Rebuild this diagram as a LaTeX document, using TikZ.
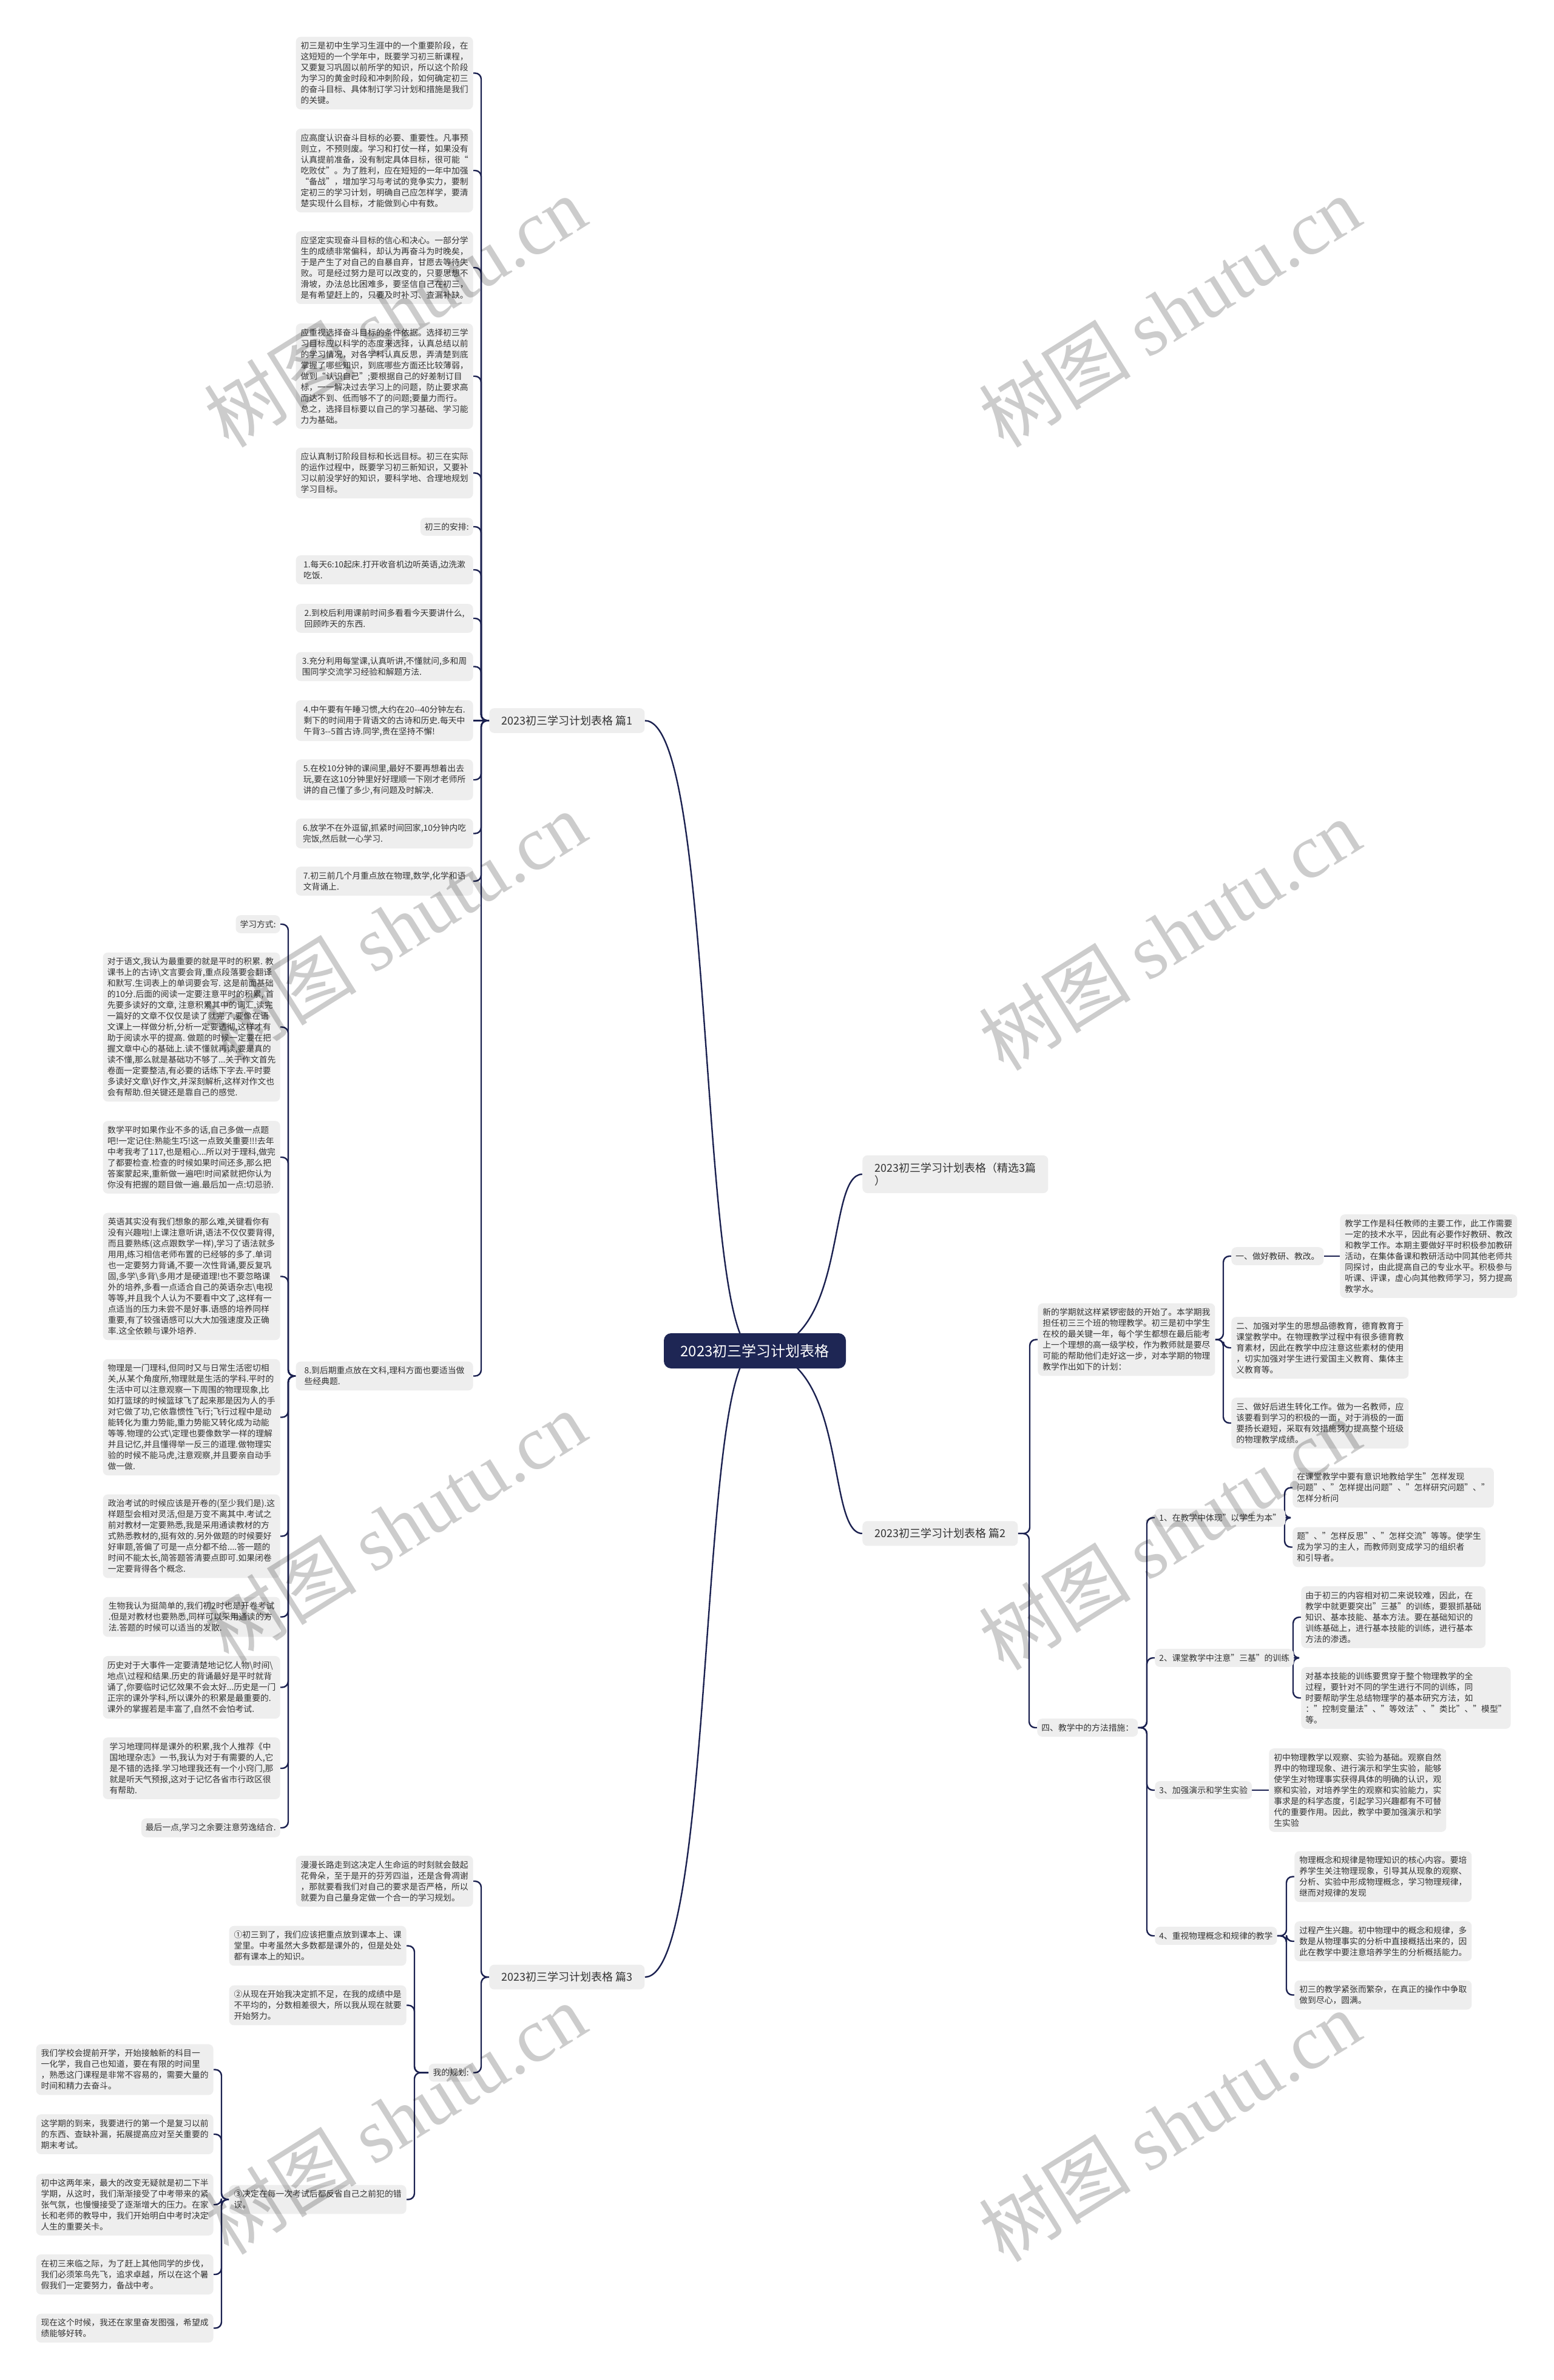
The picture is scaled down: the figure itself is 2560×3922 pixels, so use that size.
\documentclass[tikz,border=0pt]{standalone}
\usepackage{fontspec}
\setmainfont{Noto Sans CJK SC}
\newfontfamily\wmserif{Liberation Serif}
\definecolor{linec}{RGB}{27,33,80}
\definecolor{boxc}{RGB}{238,238,238}
\definecolor{txtc}{RGB}{51,51,51}
\definecolor{centerc}{RGB}{30,38,84}
\pgfdeclarelayer{bg}
\pgfdeclarelayer{fg}
\pgfsetlayers{bg,main,fg}
\tikzset{
 leaf/.style={fill=boxc, rounded corners=4pt, text=txtc, font=\fontsize{6.9pt}{9pt}\selectfont, align=left, inner xsep=3.5pt, inner ysep=4.2pt},
 lleaf/.style={leaf, anchor=east, minimum width=146pt},
 rleaf/.style={leaf, anchor=west, minimum width=146pt},
 lvl/.style={fill=boxc, rounded corners=4pt, text=txtc, font=\fontsize{9pt}{10.5pt}\selectfont, align=left, inner xsep=10pt, inner ysep=6pt},
 maintopic/.style={fill=centerc, text=white, rounded corners=6pt, font=\fontsize{12pt}{14pt}\selectfont, minimum width=150pt, minimum height=29pt},
 conn/.style={draw=linec, line width=1.2pt, rounded corners=5pt},
 wm/.style={text=black, opacity=0.2, font=\fontsize{63pt}{63pt}\selectfont, rotate=32},
}
\newcommand\Lconn[2]{\draw[conn] (#1.west) -| ([xshift=6.5pt]#2.east) -- (#2.east);}
\newcommand\Rconn[2]{\draw[conn] (#1.east) -| ([xshift=-6.5pt]#2.west) -- (#2.west);}
\begin{document}
\begin{tikzpicture}[x=0.5pt,y=-0.5pt]
\useasboundingbox (0,0) rectangle (2560,3922);
\begin{pgfonlayer}{bg}
\fill[white] (0,0) rectangle (2560,3922);
\end{pgfonlayer}

\node[maintopic] (c) at (1244,2226) {2023初三学习计划表格};

% ---------- Part 1 ----------
\node[lvl, anchor=west] (p1) at (806,1187.5) {2023初三学习计划表格 篇1};
\node[lleaf] (a1) at (780,120.5) {初三是初中生学习生涯中的一个重要阶段，在\\这短短的一个学年中，既要学习初三新课程，\\又要复习巩固以前所学的知识，所以这个阶段\\为学习的黄金时段和冲刺阶段，如何确定初三\\的奋斗目标、具体制订学习计划和措施是我们\\的关键。};
\node[lleaf] (a2) at (780,281) {应高度认识奋斗目标的必要、重要性。凡事预\\则立，不预则废。学习和打仗一样，如果没有\\认真提前准备，没有制定具体目标，很可能“\\吃败仗”。为了胜利，应在短短的一年中加强\\“备战”，增加学习与考试的竞争实力，要制\\定初三的学习计划，明确自己应怎样学，要清\\楚实现什么目标，才能做到心中有数。};
\node[lleaf] (a3) at (780,441) {应坚定实现奋斗目标的信心和决心。一部分学\\生的成绩非常偏科，却认为再奋斗为时晚矣，\\于是产生了对自己的自暴自弃，甘愿去等待失\\败。可是经过努力是可以改变的，只要思想不\\滑坡，办法总比困难多，要坚信自己在初三，\\是有希望赶上的，只要及时补习、查漏补缺。};
\node[lleaf] (a4) at (780,620) {应重视选择奋斗目标的条件依据。选择初三学\\习目标应以科学的态度来选择，认真总结以前\\的学习情况，对各学科认真反思，弄清楚到底\\掌握了哪些知识，到底哪些方面还比较薄弱，\\做到“认识自己”;要根据自己的好差制订目\\标，一一解决过去学习上的问题，防止要求高\\而达不到、低而够不了的问题;要量力而行。\\总之，选择目标要以自己的学习基础、学习能\\力为基础。};
\node[lleaf] (a5) at (780,779.5) {应认真制订阶段目标和长远目标。初三在实际\\的运作过程中，既要学习初三新知识，又要补\\习以前没学好的知识，要科学地、合理地规划\\学习目标。};
\node[leaf, anchor=east] (a6) at (780,868) {初三的安排:};
\node[lleaf] (a7) at (780,939) {1.每天6:10起床.打开收音机边听英语,边洗漱\\吃饭.};
\node[lleaf] (a8) at (780,1019) {2.到校后利用课前时间多看看今天要讲什么,\\回顾昨天的东西.};
\node[lleaf] (a9) at (780,1098.5) {3.充分利用每堂课,认真听讲,不懂就问,多和周\\围同学交流学习经验和解题方法.};
\node[lleaf] (a10) at (780,1187.5) {4.中午要有午睡习惯,大约在20-{}-40分钟左右.\\剩下的时间用于背语文的古诗和历史.每天中\\午背3-{}-5首古诗.同学,贵在坚持不懈!};
\node[lleaf] (a11) at (780,1285) {5.在校10分钟的课间里,最好不要再想着出去\\玩,要在这10分钟里好好理顺一下刚才老师所\\讲的自己懂了多少,有问题及时解决.};
\node[lleaf] (a12) at (780,1373.5) {6.放学不在外逗留,抓紧时间回家,10分钟内吃\\完饭,然后就一心学习.};
\node[lleaf] (a13) at (780,1452) {7.初三前几个月重点放在物理,数学,化学和语\\文背诵上.};
\node[lleaf] (a14) at (780,2267.5) {8.到后期重点放在文科,理科方面也要适当做\\些经典题.};

\node[leaf, anchor=east] (b0) at (462,1523) {学习方式:};
\node[lleaf] (b1) at (462,1692.5) {对于语文,我认为最重要的就是平时的积累. 教\\课书上的古诗\textbackslash 文言要会背,重点段落要会翻译\\和默写.生词表上的单词要会写. 这是前面基础\\的10分.后面的阅读一定要注意平时的积累, 首\\先要多读好的文章, 注意积累其中的词汇.读完\\一篇好的文章不仅仅是读了就完了,要像在语\\文课上一样做分析,分析一定要透彻,这样才有\\助于阅读水平的提高. 做题的时候一定要在把\\握文章中心的基础上.读不懂就再读,要是真的\\读不懂,那么就是基础功不够了...关于作文首先\\卷面一定要整洁,有必要的话练下字去.平时要\\多读好文章\textbackslash 好作文,并深刻解析,这样对作文也\\会有帮助.但关键还是靠自己的感觉.};
\node[lleaf] (b2) at (462,1907) {数学平时如果作业不多的话,自己多做一点题\\吧!一定记住:熟能生巧!这一点致关重要!!!去年\\中考我考了117,也是粗心...所以对于理科,做完\\了都要检查.检查的时候如果时间还多,那么把\\答案蒙起来,重新做一遍吧!时间紧就把你认为\\你没有把握的题目做一遍.最后加一点:切忌骄.};
\node[lleaf] (b3) at (462,2103.5) {英语其实没有我们想象的那么难,关键看你有\\没有兴趣啦!上课注意听讲,语法不仅仅要背得,\\而且要熟练(这点跟数学一样),学习了语法就多\\用用,练习相信老师布置的已经够的多了.单词\\也一定要努力背诵,不要一次性背诵,要反复巩\\固,多学\textbackslash 多背\textbackslash 多用才是硬道理!也不要忽略课\\外的培养,多看一点适合自己的英语杂志\textbackslash 电视\\等等,并且我个人认为不要看中文了,这样有一\\点适当的压力未尝不是好事.语感的培养同样\\重要,有了较强语感可以大大加强速度及正确\\率.这全依赖与课外培养.};
\node[lleaf] (b4) at (462,2335.5) {物理是一门理科,但同时又与日常生活密切相\\关,从某个角度所,物理就是生活的学科.平时的\\生活中可以注意观察一下周围的物理现象,比\\如打篮球的时候篮球飞了起来那是因为人的手\\对它做了功,它依靠惯性飞行;飞行过程中是动\\能转化为重力势能,重力势能又转化成为动能\\等等.物理的公式\textbackslash 定理也要像数学一样的理解\\并且记忆,并且懂得举一反三的道理.做物理实\\验的时候不能马虎,注意观察,并且要亲自动手\\做一做.};
\node[lleaf] (b5) at (462,2531.5) {政治考试的时候应该是开卷的(至少我们是).这\\样题型会相对灵活,但是万变不离其中.考试之\\前对教材一定要熟悉,我是采用通读教材的方\\式熟悉教材的,挺有效的.另外做题的时候要好\\好审题,答偏了可是一点分都不给....答一题的\\时间不能太长,简答题答清要点即可.如果闭卷\\一定要背得各个概念.};
\node[lleaf] (b6) at (462,2664.5) {生物我认为挺简单的,我们初2时也是开卷考试\\.但是对教材也要熟悉,同样可以采用通读的方\\法.答题的时候可以适当的发散.};
\node[lleaf] (b7) at (462,2780.5) {历史对于大事件一定要清楚地记忆人物\textbackslash 时间\textbackslash \\地点\textbackslash 过程和结果.历史的背诵最好是平时就背\\诵了,你要临时记忆效果不会太好...历史是一门\\正宗的课外学科,所以课外的积累是最重要的.\\课外的掌握若是丰富了,自然不会怕考试.};
\node[lleaf] (b8) at (462,2914) {学习地理同样是课外的积累,我个人推荐《中\\国地理杂志》一书,我认为对于有需要的人,它\\是不错的选择.学习地理我还有一个小窍门,那\\就是听天气预报,这对于记忆各省市行政区很\\有帮助.};
\node[leaf, anchor=east] (b9) at (462,3012) {最后一点,学习之余要注意劳逸结合.};

% ---------- Part 3 ----------
\node[lvl, anchor=west] (p3) at (806,3258) {2023初三学习计划表格 篇3};
\node[lleaf] (c1) at (780,3100) {漫漫长路走到这决定人生命运的时刻就会鼓起\\花骨朵，至于是开的芬芳四溢，还是含骨凋谢\\，那就要看我们对自己的要求是否严格，所以\\就要为自己量身定做一个合一的学习规划。};
\node[leaf, anchor=east] (c2) at (780,3415.5) {我的规划:};
\node[lleaf] (d1) at (670,3206.5) {①初三到了，我们应该把重点放到课本上、课\\堂里。中考虽然大多数都是课外的，但是处处\\都有课本上的知识。};
\node[lleaf] (d2) at (670,3304.5) {②从现在开始我决定抓不足，在我的成绩中是\\不平均的，分数相差很大，所以我从现在就要\\开始努力。};
\node[lleaf] (d3) at (670,3624.5) {③决定在每一次考试后都反省自己之前犯的错\\误。};
\node[lleaf] (e1) at (352,3410.5) {我们学校会提前开学，开始接触新的科目一\\一化学，我自己也知道，要在有限的时间里\\，熟悉这门课程是非常不容易的，需要大量的\\时间和精力去奋斗。};
\node[lleaf] (e2) at (352,3517) {这学期的到来，我要进行的第一个是复习以前\\的东西、查缺补漏，拓展提高应对至关重要的\\期末考试。};
\node[lleaf] (e3) at (352,3633) {初中这两年来，最大的改变无疑就是初二下半\\学期，从这时，我们渐渐接受了中考带来的紧\\张气氛，也慢慢接受了逐渐增大的压力。在家\\长和老师的教导中，我们开始明白中考时决定\\人生的重要关卡。};
\node[lleaf] (e4) at (352,3748) {在初三来临之际，为了赶上其他同学的步伐，\\我们必须笨鸟先飞，追求卓越，所以在这个暑\\假我们一定要努力，备战中考。};
\node[lleaf] (e5) at (352,3836.5) {现在这个时候，我还在家里奋发图强，希望成\\绩能够好转。};

% ---------- Right side ----------
\node[lvl, anchor=west] (r1) at (1421,1935) {2023初三学习计划表格（精选3篇\\）};
\node[lvl, anchor=west] (r2) at (1421,2527) {2023初三学习计划表格 篇2};
\node[rleaf] (n0) at (1710,2207.5) {新的学期就这样紧锣密鼓的开始了。本学期我\\担任初三三个班的物理教学。初三是初中学生\\在校的最关键一年，每个学生都想在最后能考\\上一个理想的高一级学校，作为教师就是要尽\\可能的帮助他们走好这一步，对本学期的物理\\教学作出如下的计划：};
\node[leaf, anchor=west] (f1) at (2029,2070) {一、做好教研、教改。};
\node[rleaf] (g1) at (2208,2070) {教学工作是科任教师的主要工作，此工作需要\\一定的技术水平，因此有必要作好教研、教改\\和教学工作。本期主要做好平时积极参加教研\\活动，在集体备课和教研活动中同其他老师共\\同探讨，由此提高自己的专业水平。积极参与\\听课、评课，虚心向其他教师学习，努力提高\\教学水。};
\node[rleaf] (f2) at (2029,2221) {二、加强对学生的思想品德教育，德育教育于\\课堂教学中。在物理教学过程中有很多德育教\\育素材，因此在教学中应注意这些素材的使用\\，切实加强对学生进行爱国主义教育、集体主\\义教育等。};
\node[rleaf] (f3) at (2029,2345) {三、做好后进生转化工作。做为一名教师，应\\该要看到学习的积极的一面，对于消极的一面\\要扬长避短，采取有效措施努力提高整个班级\\的物理教学成绩。};
\node[leaf, anchor=west] (m4) at (1709,2847) {四、教学中的方法措施：};
\node[leaf, anchor=west] (h1) at (1903,2501) {1、在教学中体现"以学生为本"};
\node[leaf, anchor=west] (h2) at (1903,2732) {2、课堂教学中注意"三基"的训练};
\node[leaf, anchor=west] (h3) at (1903,2950) {3、加强演示和学生实验};
\node[leaf, anchor=west] (h4) at (1903,3190) {4、重视物理概念和规律的教学};
\node[rleaf] (i1) at (2130,2451.5) {在课堂教学中要有意识地教给学生"怎样发现\\问题"、"怎样提出问题"、"怎样研究问题"、"\\怎样分析问};
\node[rleaf] (i2) at (2130,2549.5) {题"、"怎样反思"、"怎样交流"等等。使学生\\成为学习的主人，而教师则变成学习的组织者\\和引导者。};
\node[rleaf] (i3) at (2144,2665) {由于初三的内容相对初二来说较难，因此，在\\教学中就更要突出"三基"的训练，要狠抓基础\\知识、基本技能、基本方法。要在基础知识的\\训练基础上，进行基本技能的训练，进行基本\\方法的渗透。};
\node[rleaf] (i4) at (2144,2798) {对基本技能的训练要贯穿于整个物理教学的全\\过程，要针对不同的学生进行不同的训练，同\\时要帮助学生总结物理学的基本研究方法，如\\："控制变量法"、"等效法"、"类比"、"模型"\\等。};
\node[rleaf] (i5) at (2091,2950) {初中物理教学以观察、实验为基础。观察自然\\界中的物理现象、进行演示和学生实验，能够\\使学生对物理事实获得具体的明确的认识，观\\察和实验，对培养学生的观察和实验能力，实\\事求是的科学态度，引起学习兴趣都有不可替\\代的重要作用。因此，教学中要加强演示和学\\生实验};
\node[rleaf] (i6) at (2133,3092.5) {物理概念和规律是物理知识的核心内容。要培\\养学生关注物理现象，引导其从现象的观察、\\分析、实验中形成物理概念，学习物理规律，\\继而对规律的发现};
\node[rleaf] (i7) at (2133,3199) {过程产生兴趣。初中物理中的概念和规律，多\\数是从物理事实的分析中直接概括出来的，因\\此在教学中要注意培养学生的分析概括能力。};
\node[rleaf] (i8) at (2133,3287.5) {初三的教学紧张而繁杂，在真正的操作中争取\\做到尽心，圆满。};

% ---------- connectors ----------
\begin{pgfonlayer}{bg}
\draw[conn] (c.center) .. controls (1150,2226) and (1180,1187.5) .. (p1.east);
\draw[conn] (c.center) .. controls (1150,2226) and (1180,3258) .. (p3.east);
\draw[conn] (c.center) .. controls (1400,2226) and (1360,1935) .. (r1.west);
\draw[conn] (c.center) .. controls (1400,2226) and (1360,2527) .. (r2.west);
\Lconn{p1}{a1}\Lconn{p1}{a2}\Lconn{p1}{a3}\Lconn{p1}{a4}\Lconn{p1}{a5}\Lconn{p1}{a6}
\Lconn{p1}{a7}\Lconn{p1}{a8}\Lconn{p1}{a9}\Lconn{p1}{a11}\Lconn{p1}{a12}\Lconn{p1}{a13}\Lconn{p1}{a14}
\draw[conn] (p1.west) -- (a10.east);
\Lconn{a14}{b0}\Lconn{a14}{b1}\Lconn{a14}{b2}\Lconn{a14}{b3}\Lconn{a14}{b4}
\Lconn{a14}{b5}\Lconn{a14}{b6}\Lconn{a14}{b7}\Lconn{a14}{b8}\Lconn{a14}{b9}
\Lconn{p3}{c1}\Lconn{p3}{c2}
\Lconn{c2}{d1}\Lconn{c2}{d2}\Lconn{c2}{d3}
\Lconn{d3}{e1}\Lconn{d3}{e2}\Lconn{d3}{e3}\Lconn{d3}{e4}\Lconn{d3}{e5}
\Rconn{r2}{n0}\Rconn{r2}{m4}
\Rconn{n0}{f1}\Rconn{n0}{f2}\Rconn{n0}{f3}
\draw[conn] (f1.east) -- (g1.west);
\Rconn{m4}{h1}\Rconn{m4}{h2}\Rconn{m4}{h3}\Rconn{m4}{h4}
\Rconn{h1}{i1}\Rconn{h1}{i2}
\Rconn{h2}{i3}\Rconn{h2}{i4}
\draw[conn] (h3.east) -- (i5.west);
\Rconn{h4}{i6}\Rconn{h4}{i7}\Rconn{h4}{i8}
\end{pgfonlayer}

% ---------- watermarks ----------
\begin{pgfonlayer}{fg}
\foreach \wx/\wy [count=\k] in {651/513,1927/513,651/1527,1927/1540,651/2515,1927/2528,651/3491,1927/3503}{
  \node[wm] (w\k) at (\wx,\wy) {树图 {\wmserif shutu.cn}};
}
\end{pgfonlayer}
\end{tikzpicture}
\end{document}
